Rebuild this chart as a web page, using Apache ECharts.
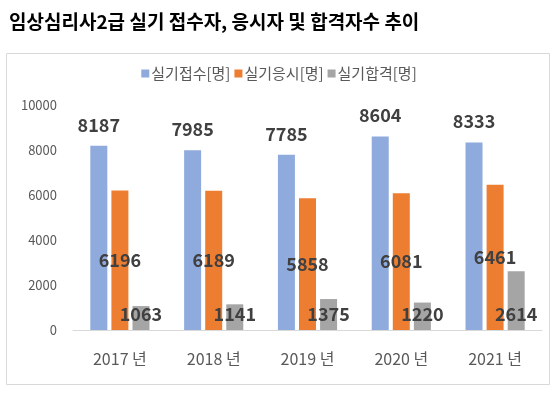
<!DOCTYPE html>
<html>
<head>
<meta charset="utf-8">
<script src="https://cdn.jsdelivr.net/npm/echarts@6/dist/echarts.min.js"></script>
<style>
  html, body { margin: 0; padding: 0; background: #fff; }
  #chart { width: 558px; height: 397px; }
</style>
</head>
<body>
<div id="chart"></div>
<script>
const years = ["2017 년", "2018 년", "2019 년", "2020 년", "2021 년"];
const applied = [8187, 7985, 7785, 8604, 8333];
const examined = [6196, 6189, 5858, 6081, 6461];
const passed = [1063, 1141, 1375, 1220, 2614];
const seriesNames = ["실기접수[명]", "실기응시[명]", "실기합격[명]"];

const FONT = "Noto Sans CJK KR";

let chart = echarts.init(document.getElementById("chart"));

function labelStyle(position, distance) {
  return {
    show: true,
    position: position,
    distance: distance,
    color: "#404040",
    fontFamily: FONT,
    fontSize: 18,
    fontWeight: "bold",
  };
}

chart.setOption({
  animation: false,
  textStyle: { fontFamily: FONT },
  title: {
    text: "임상심리사2급 실기 접수자, 응시자 및 합격자수 추이",
    left: 4,
    top: 7,
    textStyle: {
      fontFamily: FONT,
      fontSize: 19,
      fontWeight: "bold",
      color: "#000",
    },
  },
  graphic: [
    {
      type: "rect",
      shape: { x: 6.5, y: 53.5, width: 543, height: 331 },
      style: { fill: "none", stroke: "#d9d9d9", lineWidth: 1 },
      silent: true,
    },
  ],
  legend: {
    top: 61,
    left: "center",
    itemWidth: 8,
    itemHeight: 8,
    itemGap: 4,
    selectedMode: false,
    textStyle: {
      fontFamily: FONT,
      fontSize: 15,
      color: "#595959",
      padding: [0, 0, 0, -3],
    },
    data: seriesNames.map((n) => ({ name: n, icon: "rect" })),
  },
  grid: {
    left: 73,
    right: 16,
    top: 105,
    bottom: 67,
    containLabel: false,
  },
  xAxis: {
    type: "category",
    data: years,
    axisLine: { lineStyle: { color: "#d9d9d9" } },
    axisTick: { show: false },
    axisLabel: {
      color: "#595959",
      fontFamily: FONT,
      fontSize: 16,
      margin: 21,
    },
  },
  yAxis: {
    type: "value",
    min: 0,
    max: 10000,
    interval: 2000,
    axisLine: { show: false },
    axisTick: { show: false },
    splitLine: { show: false },
    axisLabel: {
      color: "#595959",
      fontFamily: FONT,
      fontSize: 13,
      margin: 16,
      formatter: (v) => String(v),
    },
  },
  series: [
    {
      name: seriesNames[0],
      type: "bar",
      data: applied,
      barWidth: 17,
      barGap: "24%",
      barCategoryGap: "37%",
      itemStyle: { color: "#8FAADC" },
      label: labelStyle("top", 12),
    },
    {
      name: seriesNames[1],
      type: "bar",
      data: examined,
      barWidth: 17,
      itemStyle: { color: "#ED7D31" },
      label: labelStyle("inside", 0),
    },
    {
      name: seriesNames[2],
      type: "bar",
      data: passed,
      barWidth: 17,
      itemStyle: { color: "#A5A5A5" },
      label: labelStyle("insideBottom", 7),
    },
  ],
});
</script>
</body>
</html>
